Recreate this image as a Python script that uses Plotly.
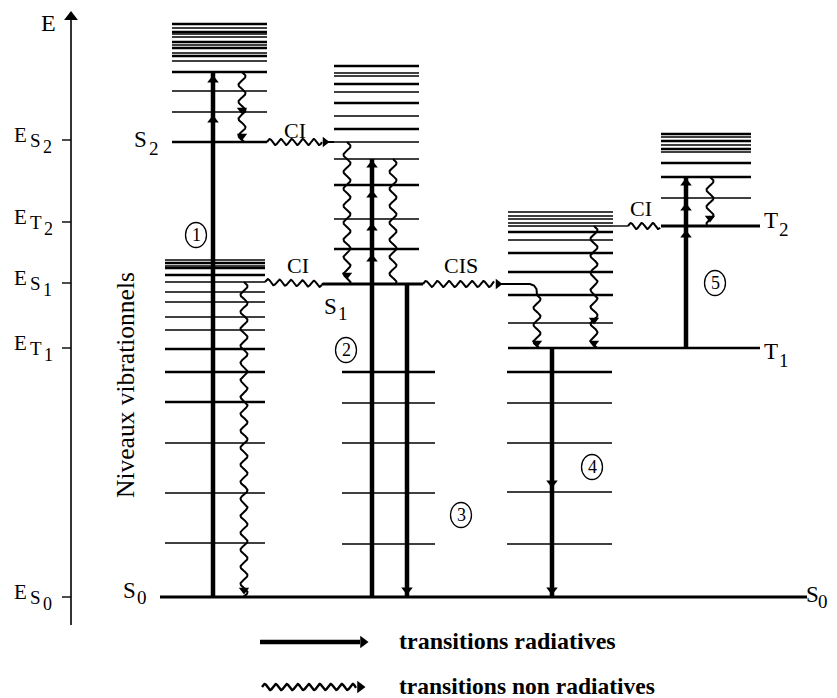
import numpy as np
import plotly.graph_objects as go

# ---------------- data : energies (arbitrary units, S0 = 0) ----------------
lev_S2 = [573, 569, 565, 563, 560, 555, 552, 549, 544, 541, 536, 525, 506, 485, 455]
thick_S2 = [573, 565, 555, 549, 541, 525, 455]
lev_S0_left = [337, 334, 331, 329, 322, 315, 305, 295, 280, 267, 248, 225, 195, 154, 104, 54]
thick_S0_left = [334, 329, 322, 248, 225, 195]
lev_S1 = [531, 524, 521, 513, 505, 494, 481, 468, 455, 438, 412, 378, 348]
thick_S1 = [531, 513, 494, 468, 412, 348]
lev_S0_mid = [225, 194, 154, 104, 53]
thick_S0_mid = [225]
lev_T1 = [385, 381, 378, 374, 371, 365, 357, 344, 325, 302, 274]
thick_T1 = [365, 344, 325, 302]
lev_S0_right = [225, 194, 154, 105, 53]
thick_S0_right = [225]
lev_T2 = [463, 460, 456, 452, 448, 445, 434, 420, 399]
thick_T2 = [463, 456, 448, 434, 420]

E_S0, E_S1, E_S2, E_T1, E_T2 = 0, 313, 455, 249, 371

axis_tick_E = [0, 249, 314, 375, 457]
axis_tick_state = ["S", "T", "S", "T", "S"]
axis_tick_index = ["0", "1", "1", "2", "2"]

# radiative transitions: start energy, end energy, arrow-head energies
rad_from = [0, 0, 313, 249, 249]
rad_to = [525, 438, 0, 0, 420]
rad_heads = [[517, 477], [432, 402, 369, 338], [7], [114, 7], [414, 389, 362]]
rad_names = ["1", "2", "3", "4", "5"]

# non-radiative (vibrational relaxation) transitions
vr_from = [525, 315, 455, 438, 302, 371, 420]
vr_to = [455, 0, 313, 313, 249, 249, 371]
vr_heads = [[487, 461], [7], [322], [], [254], [277, 254], [379]]

legend_texts = ["transitions radiatives", "transitions non radiatives"]

# ---------------- layout geometry ----------------
W, H = 837, 698
PAGE_OFF = 8                     # browser body margin
E_TOP = 597                      # energy at top edge of the window
INK = "#000000"
FONT = "Liberation Serif"

stack_x = [(172, 267), (165, 265), (334, 419), (342, 435), (508, 613), (507, 612), (661, 751)]
rad_x = [213, 372, 407, 552, 686]
vr_x = [242, 244, 347, 393, 537, 594, 710]
circle_pos = [(196, 362), (346, 247), (461, 82), (592, 130), (715, 314)]

fig = go.Figure()


def lines(xs, ys, width, color=INK):
    fig.add_trace(go.Scatter(x=xs, y=ys, mode="lines", line=dict(color=color, width=width),
                             hoverinfo="skip", showlegend=False))


def heads(xs, ys, symbol, size=10):
    fig.add_trace(go.Scatter(x=xs, y=ys, mode="markers",
                             marker=dict(symbol=symbol, size=size, color=INK, line=dict(width=0)),
                             hoverinfo="skip", showlegend=False))


def wavy(x0, y0, x1, y1, amp=3.5, period=15.0):
    L = float(np.hypot(x1 - x0, y1 - y0))
    s = np.linspace(0, L, max(int(L * 3), 4))
    ux, uy = (x1 - x0) / L, (y1 - y0) / L
    off = amp * np.sin(2 * np.pi * s / period)
    return list(x0 + ux * s - uy * off), list(y0 + uy * s + ux * off)


# ---- vibrational level stacks
stacks = [(lev_S2, thick_S2), (lev_S0_left, thick_S0_left), (lev_S1, thick_S1),
          (lev_S0_mid, thick_S0_mid), (lev_T1, thick_T1), (lev_S0_right, thick_S0_right),
          (lev_T2, thick_T2)]
thin_x, thin_y, thk_x, thk_y = [], [], [], []
for (levs, thick), (xa, xb) in zip(stacks, stack_x):
    for e in levs:
        if e in thick:
            thk_x += [xa, xb, None]; thk_y += [e, e, None]
        else:
            thin_x += [xa, xb, None]; thin_y += [e, e, None]
lines(thin_x, thin_y, 1.3)
lines(thk_x, thk_y, 2.6)

# ---- main electronic levels
lines([160, 807], [E_S0, E_S0], 3)            # S0
lines([323, 423], [E_S1, E_S1], 3)            # S1
lines([508, 760], [E_T1, E_T1], 2.4)          # T1
lines([661, 760], [E_T2, E_T2], 3)            # T2
lines([327, 334], [E_S2, E_S2], 2)
lines([613, 628], [E_T2, E_T2], 1.4)

# ---- internal conversions / intersystem crossing (horizontal wavy)
wx, wy = wavy(267, E_S2, 322, E_S2, amp=3, period=11)
lines(wx, wy, 2)
heads([325], [E_S2], "triangle-right", 9)
wx, wy = wavy(265, 315, 323, E_S1, amp=3, period=11.5)
lines(wx, wy, 2)
wx, wy = wavy(423, E_S1, 494, E_S1, amp=3, period=11.5)
lines(wx, wy, 2)
heads([498], [E_S1], "triangle-right", 9)
lines([500, 530, 534, 536.5, 537], [E_S1, E_S1, 311.5, 308, 302], 2)
wx, wy = wavy(628, E_T2, 660, E_T2, amp=3, period=11)
lines(wx, wy, 2)

# ---- radiative transitions
for x, e0, e1, hd in zip(rad_x, rad_from, rad_to, rad_heads):
    lines([x, x], [e0, e1], 4.5)
    heads([x] * len(hd), hd, "triangle-up" if e1 > e0 else "triangle-down", 10)

# ---- vibrational relaxation (vertical wavy)
for x, e0, e1, hd in zip(vr_x, vr_from, vr_to, vr_heads):
    wx, wy = wavy(x, e0, x, e1, amp=3.5, period=17)
    lines(wx, wy, 2)
    if hd:
        heads([x] * len(hd), hd, "triangle-down", 9)

# ---- energy axis
lines([71, 71], [-28, 583], 1.6)
heads([71], [580], "triangle-up", 12)
tx, ty = [], []
for e in axis_tick_E:
    tx += [62, 71, None]; ty += [e, e, None]
lines(tx, ty, 1.4)

# ---- legend marks
lines([260, 360], [-45, -45], 4.5)
heads([363], [-45], "triangle-right", 11)
wx, wy = wavy(262, -90, 356, -90, amp=3, period=11)
lines(wx, wy, 2.4)
heads([360], [-90], "triangle-right", 11)

ann = []


def text(x, y, s, size, xanchor="center", yanchor="middle", angle=0, bold=False):
    ann.append(dict(x=x, y=y, text=f"<b>{s}</b>" if bold else s, showarrow=False,
                    xanchor=xanchor, yanchor=yanchor, textangle=angle,
                    font=dict(family=FONT, size=size, color=INK)))


def sublabel(x, y, main, sub, size, sub_size, sub_dx, sub_dy):
    """letter at (x, y) anchored left, with subscript placed below-right"""
    text(x, y, main, size, xanchor="left")
    text(x + sub_dx, y - sub_dy, sub, sub_size, xanchor="left")


text(48, 574, "E", 24)
for e, st, idx in zip(axis_tick_E, axis_tick_state, axis_tick_index):
    text(29, e + 5, "E", 21, xanchor="right")
    text(28, e, st, 19, xanchor="left")
    text(41 if st == "S" else 42, e - 7, idx, 18, xanchor="left")

sublabel(132, E_S2 + 3, "S", "2", 23, 19, 15, 9)
sublabel(121, E_S0 + 7, "S", "0", 23, 19, 14, 7)
sublabel(322, 291, "S", "1", 23, 19, 14, 7)
sublabel(762, E_T2 + 6, "T", "2", 23, 19, 15, 9)
sublabel(762, E_T1 - 3, "T", "1", 23, 19, 15, 9)
sublabel(804, E_S0 + 3, "S", "0", 23, 19, 12, 7)

text(295, 467, "CI", 22)
text(298, 332, "CI", 22)
text(461, 332, "CIS", 22)
text(641, 389, "CI", 22)
text(125, 212, "Niveaux vibrationnels", 25.5, angle=-90)
text(397, -44, legend_texts[0], 24, xanchor="left", bold=True)
text(397, -89, legend_texts[1], 23.5, xanchor="left", bold=True)

shapes = []
for (cx, cy), name in zip(circle_pos, rad_names):
    shapes.append(dict(type="circle", xref="x", yref="y", x0=cx - 10.5, x1=cx + 10.5,
                       y0=cy - 12.5, y1=cy + 12.5, line=dict(color=INK, width=1.3)))
    text(cx, cy, name, 18)

fig.update_layout(
    width=W, height=H, margin=dict(l=0, r=0, t=0, b=0),
    paper_bgcolor="white", plot_bgcolor="white", showlegend=False,
    xaxis=dict(range=[PAGE_OFF, PAGE_OFF + W], visible=False, fixedrange=True),
    yaxis=dict(range=[E_TOP - PAGE_OFF - H, E_TOP - PAGE_OFF], visible=False, fixedrange=True),
    annotations=ann, shapes=shapes,
)
fig.write_html("out.html")
